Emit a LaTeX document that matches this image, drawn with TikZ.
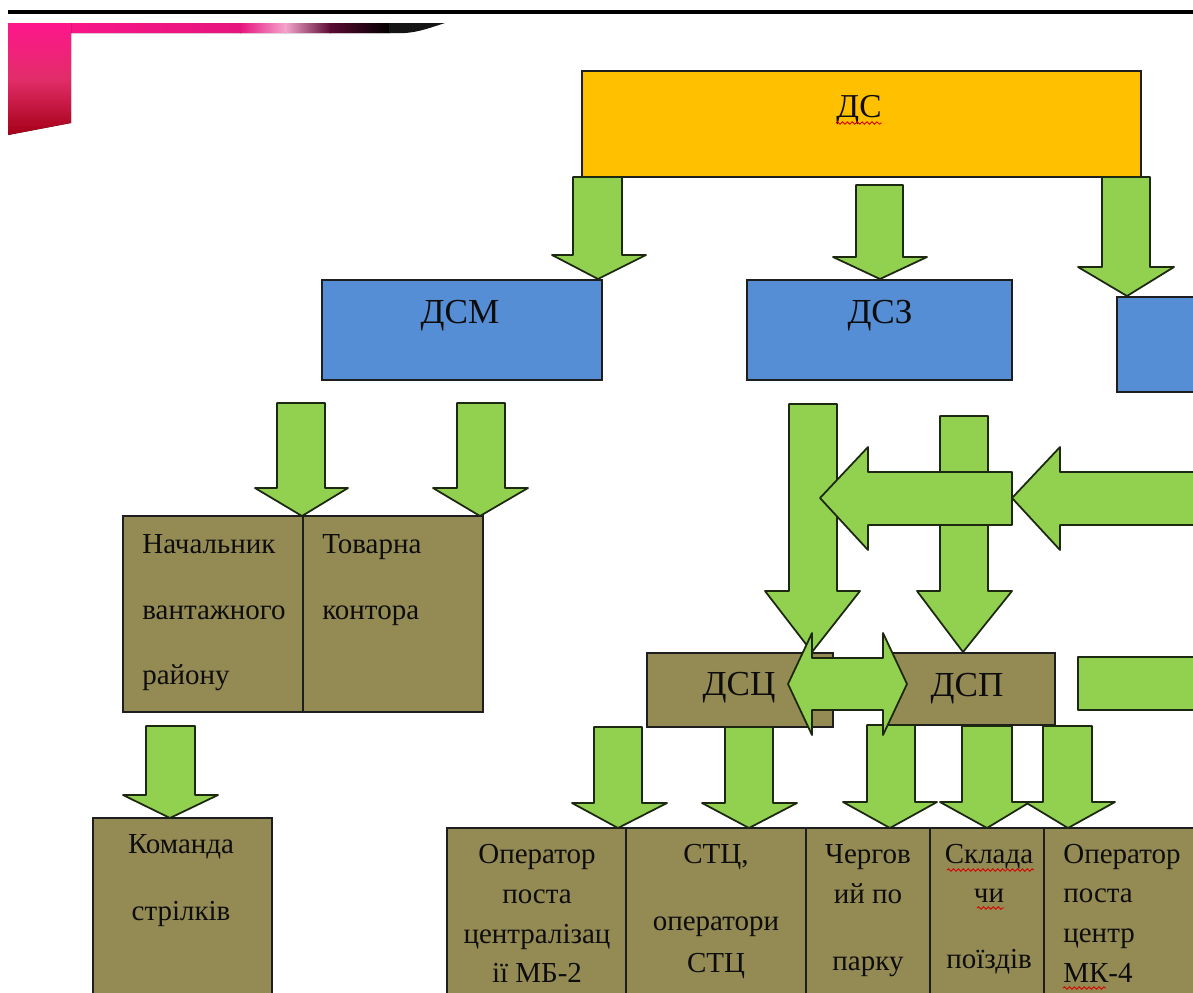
\documentclass[tikz,border=0pt]{standalone}
\usepackage{fontspec}
\setmainfont{Liberation Serif}
\usetikzlibrary{decorations.pathmorphing}
\definecolor{dsorange}{RGB}{255,192,0}
\definecolor{dsblue}{RGB}{85,142,213}
\definecolor{dsolive}{RGB}{148,138,84}
\definecolor{dsgreen}{RGB}{146,208,80}
\definecolor{dsline}{RGB}{30,30,30}
\definecolor{arrline}{RGB}{28,40,16}
\definecolor{pinkA}{RGB}{255,22,140}
\definecolor{pinkM}{RGB}{225,45,105}
\definecolor{pinkD}{RGB}{165,0,22}
\definecolor{pinkL}{RGB}{245,165,205}
\definecolor{purpD}{RGB}{90,10,50}
\newcommand\boxnode[6]{%
  \node[#6, anchor=north west, minimum width={(#4-#2)*0.02cm}, minimum height={(#5-#3)*0.02cm}] (#1) at (#2,#3) {};}
\newcommand\darr[8]{%
  \draw[garrow] (#1,#3) -- (#2,#3) -- (#2,#4) -- (#6,#4) -- (#7,#8) -- (#5,#4) -- (#1,#4) -- cycle;}
\tikzset{
  boxbase/.style={draw=dsline, line width=0.9pt, inner sep=0pt, outer sep=0pt},
  boxo/.style={boxbase, fill=dsorange},
  boxb/.style={boxbase, fill=dsblue},
  boxk/.style={boxbase, fill=dsolive},
  garrow/.style={draw=arrline, line width=1pt, fill=dsgreen, line join=round},
  smalltxt/.style={font=\fontsize{16.5}{20}\selectfont, inner sep=0pt, text=black!95},
  bigtxt/.style={font=\fontsize{20}{24}\selectfont, inner sep=0pt, text=black!95},
  dstxt/.style={font=\fontsize{19}{23}\selectfont, inner sep=0pt, text=black!95},
  wavy/.style={draw=red!85!black, line width=0.5pt, decorate, decoration={snake, amplitude=0.7pt, segment length=2.8pt}},
}
\begin{document}
\begin{tikzpicture}[x=0.02cm, y=-0.02cm]
\fill[white] (0,0) rectangle (1193,992);
\useasboundingbox (0,0) rectangle (1193,992);
\clip (0,0) rectangle (1193,992);

% top rule
\draw[line width=2.4pt, black] (8,12) -- (1193,12);

% pink decoration
\begin{scope}
  \clip (8,23) -- (445,23) .. controls (432,27) and (420,32) .. (405,33) -- (8,33) -- cycle;
  \fill[left color=pinkA, right color=pinkA!85!purpD] (6,20) rectangle (241,36);
  \fill[left color=pinkA!85!purpD, right color=pinkL] (240,20) rectangle (286,36);
  \fill[left color=pinkL, right color=purpD] (285,20) rectangle (331,36);
  \fill[left color=purpD, right color=black] (330,20) rectangle (390,36);
  \fill[black!92] (389,20) rectangle (450,36);
\end{scope}
\fill[top color=pinkA, bottom color=pinkD, middle color=pinkM] (8,23) -- (71,23) -- (71,123) -- (8,135) -- cycle;

% boxes
\boxnode{ds}{582}{71}{1141}{177}{boxo}
\boxnode{dsm}{322}{280}{602}{380}{boxb}
\boxnode{dsz}{747}{280}{1012}{380}{boxb}
\boxnode{dsr}{1117}{297}{1210}{392}{boxb}
\boxnode{nach}{123}{516}{303}{712}{boxk}
\boxnode{tov}{303}{516}{483}{712}{boxk}
\boxnode{kom}{93}{818}{272}{1010}{boxk}
\boxnode{dsc}{647}{653}{833}{727}{boxk}
\boxnode{dsp}{887}{653}{1055}{725}{boxk}
\boxnode{bA}{447}{828}{626}{1010}{boxk}
\boxnode{bB}{626}{828}{806}{1010}{boxk}
\boxnode{bC}{806}{828}{930}{1010}{boxk}
\boxnode{bD}{930}{828}{1044}{1010}{boxk}
\boxnode{bE}{1044}{828}{1210}{1010}{boxk}

% box labels
\node[dstxt, anchor=base] (tds) at (859,117) {ДС};
\draw[wavy] (836,123) -- (882,123);
\node[bigtxt, anchor=base] (tdsm) at (460,323) {ДСМ};
\node[bigtxt, anchor=base] (tdsz) at (880,323) {ДСЗ};
\node[bigtxt, anchor=base] (tdsc) at (739,695) {ДСЦ};
\node[bigtxt, anchor=base] (tdsp) at (967,696) {ДСП};

\node[smalltxt, anchor=base west] (n1) at (142,553) {Начальник};
\node[smalltxt, anchor=base west] (n2) at (142,619) {вантажного};
\node[smalltxt, anchor=base west] (n3) at (142,684) {району};
\node[smalltxt, anchor=base west] (t1) at (322,553) {Товарна};
\node[smalltxt, anchor=base west] (t2) at (322,619) {контора};
\node[smalltxt, anchor=base] (k1) at (181,853) {Команда};
\node[smalltxt, anchor=base] (k2) at (181,920) {стрілків};

\node[smalltxt, anchor=base] (a1) at (537,863) {Оператор};
\node[smalltxt, anchor=base] (a2) at (537,903) {поста};
\node[smalltxt, anchor=base] (a3) at (537,943) {централізац};
\node[smalltxt, anchor=base] (a4) at (537,982) {ії МБ-2};
\node[smalltxt, anchor=base] (c1) at (716,863) {СТЦ,};
\node[smalltxt, anchor=base] (c2) at (716,930) {оператори};
\node[smalltxt, anchor=base] (c3) at (716,972) {СТЦ};
\node[smalltxt, anchor=base] (d1) at (868,863) {Чергов};
\node[smalltxt, anchor=base] (d2) at (868,903) {ий по};
\node[smalltxt, anchor=base] (d3) at (868,970) {парку};
\node[smalltxt, anchor=base] (e1) at (989,863) {Склада};
\node[smalltxt, anchor=base] (e2) at (989,902) {чи};
\node[smalltxt, anchor=base] (e3) at (989,968) {поїздів};
\draw[wavy] (947,870) -- (1034,870);
\draw[wavy] (977,908) -- (1004,908);
\node[smalltxt, anchor=base west] (f1) at (1063,863) {Оператор};
\node[smalltxt, anchor=base west] (f2) at (1063,902) {поста};
\node[smalltxt, anchor=base west] (f3) at (1063,942) {центр};
\node[smalltxt, anchor=base west] (f4) at (1063,982) {МК-4};
\draw[wavy] (1063,988) -- (1106,988);

% arrows from ДС
\darr{573}{622}{177}{255}{552}{646}{598}{279}
\darr{856}{903}{185}{257}{833}{927}{880}{279}
\darr{1102}{1150}{177}{267}{1078}{1174}{1127}{296}
% arrows from ДСМ
\darr{277}{325}{403}{488}{255}{348}{302}{516}
\darr{457}{505}{403}{488}{433}{528}{480}{516}
% arrow to Команда
\darr{146}{195}{726}{795}{123}{218}{170}{818}
% long vertical arrows
\darr{789}{837}{404}{591}{765}{860}{812}{652}
\darr{940}{988}{416}{591}{917}{1012}{963}{652}
% horizontal arrows
\draw[garrow] (1012,472) -- (868,472) -- (868,447) -- (820,498) -- (868,550) -- (868,525) -- (1012,525) -- cycle;
\draw[garrow] (1210,472) -- (1060,472) -- (1060,447) -- (1012,498) -- (1060,550) -- (1060,525) -- (1210,525) -- cycle;
% bottom arrows
\darr{594}{642}{727}{803}{572}{667}{618}{828}
\darr{725}{773}{727}{803}{702}{797}{749}{828}
\darr{867}{915}{725}{802}{843}{937}{890}{828}
\darr{962}{1012}{726}{802}{940}{1030}{987}{828}
\darr{1043}{1092}{726}{802}{1025}{1115}{1068}{828}
% double arrow between ДСЦ and ДСП
\draw[garrow] (788,684) -- (812,633) -- (812,658) -- (883,658) -- (883,633) -- (907,684) -- (883,735) -- (883,710) -- (812,710) -- (812,735) -- cycle;
% right green bar (shaft of an arrow cut off by the edge)
\draw[garrow] (1210,657) -- (1078,657) -- (1078,710) -- (1210,710) -- cycle;
\end{tikzpicture}
\end{document}
